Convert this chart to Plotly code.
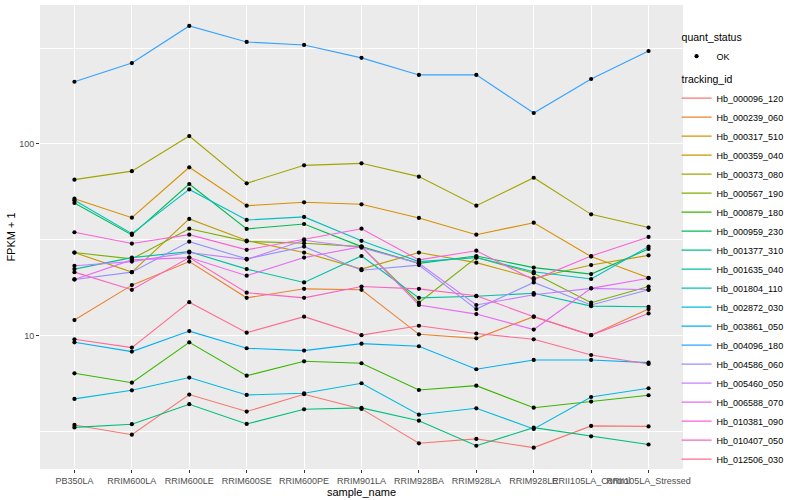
import plotly.graph_objects as go

samples = ["PB350LA", "RRIM600LA", "RRIM600LE", "RRIM600SE", "RRIM600PE", "RRIM901LA",
           "RRIM928BA", "RRIM928LA", "RRIM928LE", "RRII105LA_Control", "RRII105LA_Stressed"]

genes = ["Hb_000096_120", "Hb_000239_060", "Hb_000317_510", "Hb_000359_040", "Hb_000373_080",
         "Hb_000567_190", "Hb_000879_180", "Hb_000959_230", "Hb_001377_310", "Hb_001635_040",
         "Hb_001804_110", "Hb_002872_030", "Hb_003861_050", "Hb_004096_180", "Hb_004586_060",
         "Hb_005460_050", "Hb_006588_070", "Hb_010381_090", "Hb_010407_050", "Hb_012506_030"]

# FPKM + 1 values
hb_000096_120 = [3.44, 3.06, 4.95, 4.04, 4.97, 4.17, 2.76, 2.91, 2.62, 3.40, 3.38]
hb_000239_060 = [12.1, 18.4, 24.4, 15.8, 17.6, 17.4, 10.2, 9.72, 12.6, 10.1, 13.8]
hb_000317_510 = [51.9, 41.3, 75.6, 47.7, 49.7, 48.5, 41.2, 33.7, 38.9, 25.9, 20.1]
hb_000359_040 = [27.2, 21.5, 40.7, 31.4, 27.2, 22.3, 27.2, 24.1, 20.0, 23.4, 26.3]
hb_000373_080 = [65.2, 72.2, 110, 62.4, 77.4, 79.3, 67.6, 47.7, 66.7, 43.0, 36.7]
hb_000567_190 = [27.2, 25.2, 36.2, 31.1, 30.4, 29.2, 14.9, 25.6, 21.2, 14.9, 18.1]
hb_000879_180 = [6.39, 5.71, 9.27, 6.21, 7.38, 7.21, 5.23, 5.51, 4.23, 4.55, 4.91]
hb_000959_230 = [49.3, 33.6, 61.9, 36.1, 38.3, 29.2, 23.9, 26.1, 22.7, 21.0, 28.4]
hb_001377_310 = [3.34, 3.47, 4.41, 3.48, 4.15, 4.22, 3.62, 2.68, 3.33, 3.00, 2.72]
hb_001635_040 = [22.3, 25.6, 27.5, 22.3, 19.0, 26.1, 15.8, 16.1, 16.7, 14.3, 14.2]
hb_001804_110 = [50.9, 34.1, 58.0, 40.2, 41.7, 31.3, 24.4, 25.6, 21.6, 19.8, 29.2]
hb_002872_030 = [4.70, 5.21, 6.07, 4.93, 5.03, 5.67, 3.89, 4.20, 3.28, 4.81, 5.34]
hb_003861_050 = [9.27, 8.29, 10.6, 8.63, 8.39, 9.12, 8.84, 6.71, 7.50, 7.50, 7.26]
hb_004096_180 = [211, 264, 412, 340, 328, 281, 229, 229, 145, 218, 305]
hb_004586_060 = [19.7, 21.5, 31.0, 25.2, 29.2, 22.0, 23.4, 13.8, 19.0, 14.5, 17.4]
hb_005460_050 = [23.2, 24.4, 27.2, 25.0, 31.5, 28.8, 23.9, 14.5, 16.4, 17.7, 17.4]
hb_006588_070 = [19.7, 24.9, 25.6, 20.6, 25.6, 29.2, 14.5, 13.0, 10.8, 17.7, 20.0]
hb_010381_090 = [34.7, 30.3, 33.7, 28.1, 31.9, 36.2, 24.9, 27.8, 19.6, 26.1, 32.8]
hb_010407_050 = [21.5, 17.4, 25.6, 16.8, 15.8, 18.1, 17.6, 16.2, 12.6, 10.1, 13.1]
hb_012506_030 = [9.61, 8.70, 15.0, 10.4, 12.6, 10.1, 11.3, 10.3, 9.61, 7.96, 7.15]

series = [hb_000096_120, hb_000239_060, hb_000317_510, hb_000359_040, hb_000373_080,
          hb_000567_190, hb_000879_180, hb_000959_230, hb_001377_310, hb_001635_040,
          hb_001804_110, hb_002872_030, hb_003861_050, hb_004096_180, hb_004586_060,
          hb_005460_050, hb_006588_070, hb_010381_090, hb_010407_050, hb_012506_030]

colors = ["#F8766D", "#EA8331", "#D89000", "#C09B00", "#A3A500", "#7CAE00", "#39B600",
          "#00BB4E", "#00BF7D", "#00C1A3", "#00BFC4", "#00BAE0", "#00B0F6", "#35A2FF",
          "#9590FF", "#C77CFF", "#E76BF3", "#FA62DB", "#FF62BC", "#FF6C91"]

y_ticks = [10, 100]
y_minor = [3.1623, 31.623, 316.23]

fig = go.Figure()
for g, vals, c in zip(genes, series, colors):
    fig.add_trace(go.Scatter(
        x=samples, y=vals, mode="lines", name=g,
        line=dict(color=c, width=1.1),
        legendgroup="tracking_id", legendgrouptitle_text="tracking_id",
        legendrank=2, hoverinfo="skip"))

all_x = [s for _ in series for s in samples]
all_y = [v for vals in series for v in vals]
fig.add_trace(go.Scatter(
    x=all_x, y=all_y, mode="markers", name="OK",
    marker=dict(color="black", size=4.2, symbol="circle"),
    legendgroup="quant_status", legendgrouptitle_text="quant_status",
    legendrank=1))

fig.update_layout(
    width=800, height=500,
    margin=dict(l=40, r=117, t=5, b=31, autoexpand=False),
    paper_bgcolor="white", plot_bgcolor="#EBEBEB",
    font=dict(family="Liberation Sans, Arial, sans-serif", size=9, color="black"),
    showlegend=True,
    legend=dict(
        x=0.99, xanchor="left", y=0.962, yanchor="top",
        traceorder="grouped", tracegroupgap=4,
        font=dict(size=9, color="black"),
        grouptitlefont=dict(size=10.5, color="black"),
        bgcolor="rgba(0,0,0,0)", itemwidth=30,
    ),
    xaxis=dict(
        type="category", categoryorder="array", categoryarray=samples,
        range=[-0.6, len(samples) - 0.4],
        showgrid=True, gridcolor="white", gridwidth=1.1,
        ticks="outside", ticklen=3, tickcolor="#333333", tickwidth=1,
        tickangle=0,
        tickfont=dict(size=9, color="#4D4D4D"),
        showline=False, zeroline=False,
        title=dict(text="sample_name", font=dict(size=11, color="black"), standoff=0),
        automargin=False,
    ),
    yaxis=dict(
        type="log", range=[0.307, 2.724],
        tickmode="array", tickvals=y_ticks, ticktext=[str(v) for v in y_ticks],
        showgrid=True, gridcolor="white", gridwidth=1.1,
        minor=dict(tickmode="array", tickvals=y_minor, showgrid=True,
                   gridcolor="white", gridwidth=0.55, ticks=""),
        ticks="outside", ticklen=3, tickcolor="#333333", tickwidth=1,
        tickfont=dict(size=9, color="#4D4D4D"),
        showline=False, zeroline=False,
        title=dict(text="FPKM + 1", font=dict(size=11, color="black"), standoff=1),
        automargin=False,
    ),
)

fig.write_html("out.html", config={"displayModeBar": False},
               post_script="document.body.style.margin='0';")
